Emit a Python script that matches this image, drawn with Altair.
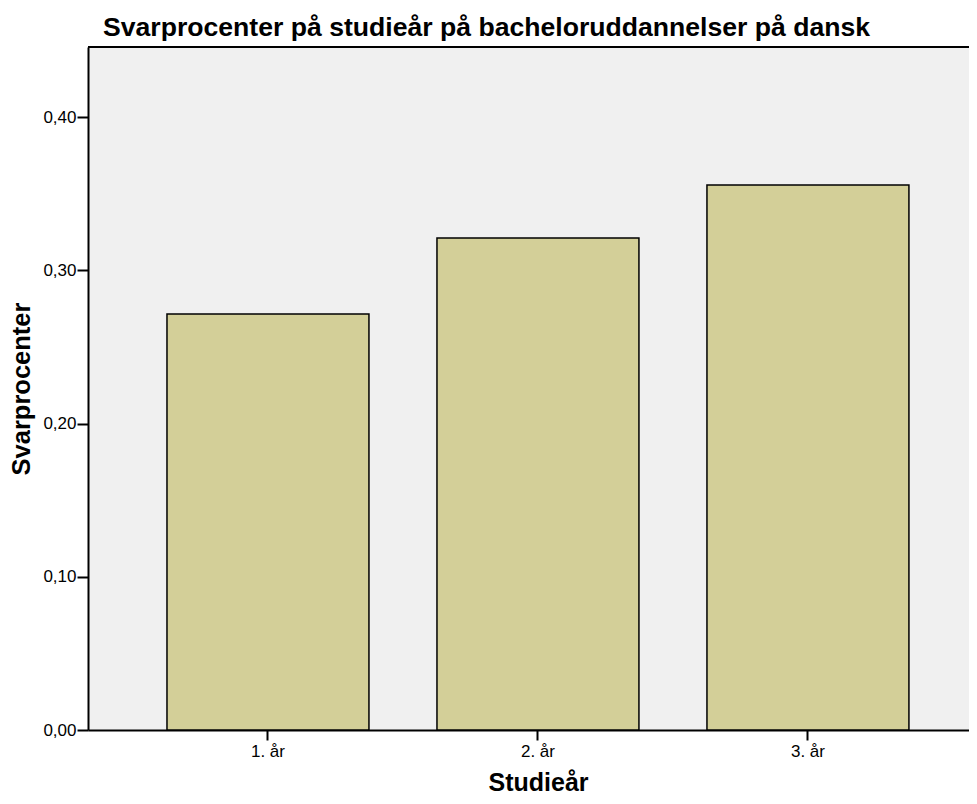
import altair as alt
import pandas as pd

categories = ["1. år", "2. år", "3. år"]
values = [0.2715, 0.321, 0.3556]

df = pd.DataFrame({"Studieår": categories, "Svarprocenter": values})

FONT = "Liberation Sans"
W = 881
H = 683

bars = alt.Chart(df).mark_bar(
    color="#D3CF98", stroke="#000000", strokeWidth=1.5
).encode(
    x=alt.X(
        "Studieår:N",
        sort=categories,
        scale=alt.Scale(paddingInner=0.2519, paddingOuter=0.2575, align=0.568),
        axis=alt.Axis(
            title="Studieår",
            labelAngle=0,
            labelFontSize=17,
            labelFont=FONT,
            labelColor="#000000",
            tickSize=10,
            tickWidth=2,
            tickColor="#000000",
            domainColor="#000000",
            domainWidth=2,
            labelPadding=3,
            titleFont=FONT,
            titleFontSize=25,
            titleFontWeight="bold",
            titleColor="#000000",
            titlePadding=11,
            titleX=450,
            titleAlign="center",
        ),
    ),
    y=alt.Y(
        "Svarprocenter:Q",
        scale=alt.Scale(domain=[0, 0.4457], nice=False, zero=True),
        axis=alt.Axis(
            title="Svarprocenter",
            values=[0, 0.1, 0.2, 0.3, 0.4],
            labelExpr="replace(format(datum.value, '.2f'), '.', ',')",
            labelFontSize=17,
            labelFont=FONT,
            labelColor="#000000",
            tickSize=11,
            tickWidth=2,
            tickColor="#000000",
            domainColor="#000000",
            domainWidth=2,
            labelPadding=1,
            grid=False,
            titleFont=FONT,
            titleFontSize=25.5,
            titleFontWeight="bold",
            titleColor="#000000",
            titlePadding=8,
        ),
    ),
)

top_border = alt.Chart(df).mark_rule(color="#000000", strokeWidth=2).encode(
    x=alt.value(0), x2=alt.value(W), y=alt.value(0)
)

chart = alt.layer(bars, top_border).properties(
    width=W,
    height=H,
    title=alt.Title(
        "Svarprocenter på studieår på bacheloruddannelser på dansk",
        anchor="start",
        frame="group",
        dx=15,
        offset=4,
        font=FONT,
        fontSize=26.6,
        fontWeight="bold",
        color="#000000",
    ),
    autosize=alt.AutoSizeParams(type="none"),
    padding={"left": 80, "top": 39, "right": 0, "bottom": 66},
).configure(
    background="#FFFFFF"
).configure_view(
    fill="#F0F0F0", stroke=None
)

chart.save("out.html", embed_options={"renderer": "svg", "actions": False})
